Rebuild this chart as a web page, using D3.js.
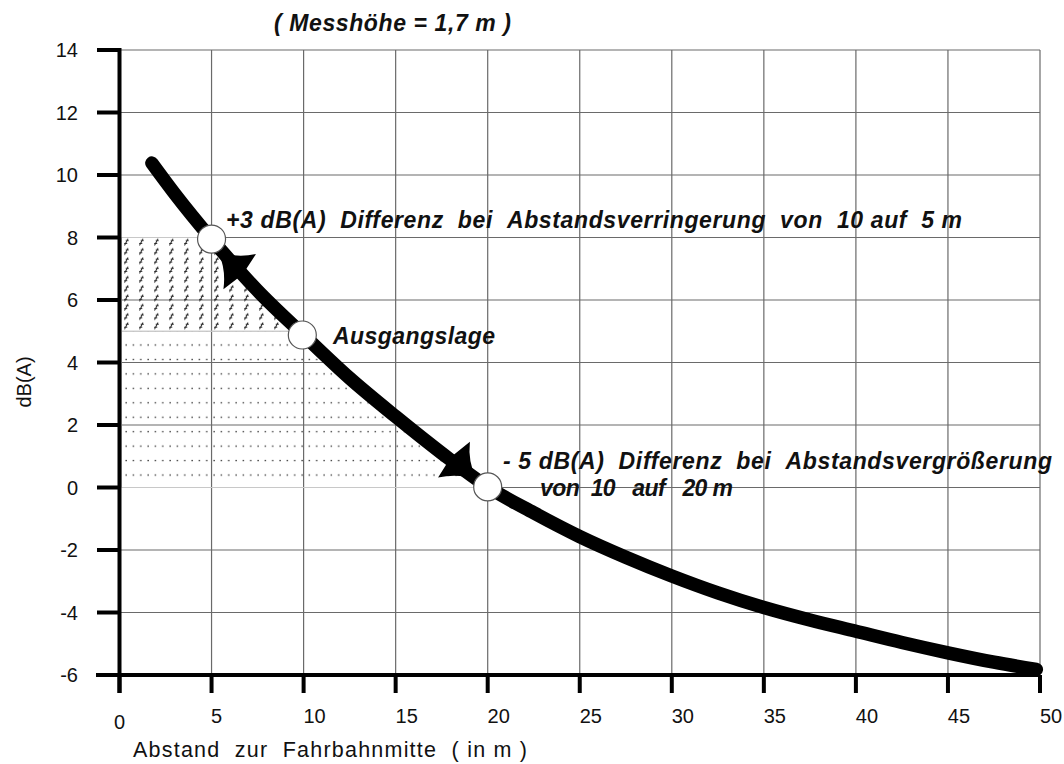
<!DOCTYPE html>
<html><head><meta charset="utf-8">
<script src="https://cdn.jsdelivr.net/npm/d3@7"></script>
<style>
html,body{margin:0;padding:0;background:#fff;}
text{font-family:"Liberation Sans",Arial,sans-serif;}
</style></head>
<body>
<svg id="chart" width="1064" height="764"></svg>
<script>
// ---- data ----
const distance = [1.76, 3, 5, 7.5, 10, 12.5, 15, 17.5, 20, 22.5, 25, 27.5, 30, 32.5, 35, 37.5, 40, 42.5, 45, 47.5, 49.8];
const level    = [10.38, 9.4, 7.95, 6.3, 4.88, 3.5, 2.27, 1.1, 0.02, -0.81, -1.57, -2.23, -2.83, -3.37, -3.84, -4.24, -4.6, -4.96, -5.29, -5.59, -5.82];
const markerX  = [5, 9.93, 20];
const markerY  = [7.95, 4.88, 0.02];
const arrowTipX  = [5.35, 19.4];
const arrowTipY  = [7.55, 0.25];
const arrowBaseX = [6.45, 18.25];
const arrowBaseY = [6.95, 0.85];
const xTicks = [0, 5, 10, 15, 20, 25, 30, 35, 40, 45, 50];
const yTicks = [-6, -4, -2, 0, 2, 4, 6, 8, 10, 12, 14];
const titleText = "( Messhöhe = 1,7 m )";
const xTitle = "Abstand  zur  Fahrbahnmitte  ( in m )";
const yTitle = "dB(A)";
const note1 = "+3 dB(A)  Differenz  bei  Abstandsverringerung  von  10 auf  5 m";
const note2 = "Ausgangslage";
const note3a = "- 5 dB(A)  Differenz  bei  Abstandsvergrößerung";
const note3b = "von  10   auf   20 m";

const nb = s => s.replace(/ /g, "\u00A0");

// ---- scales ----
const svg = d3.select("#chart");
const x = d3.scaleLinear().domain([0, 50]).range([119.5, 1040]);
const y = d3.scaleLinear().domain([-6, 14]).range([675, 50]);

const defs = svg.append("defs");
// hatch pattern
const hp = defs.append("pattern").attr("id", "hatch").attr("patternUnits", "userSpaceOnUse")
  .attr("x", 122).attr("y", y(8)).attr("width", 15).attr("height", 9.3);
hp.append("line").attr("x1", 2.5).attr("y1", 8).attr("x2", 6).attr("y2", 1.5)
  .attr("stroke", "#222").attr("stroke-width", 1);
hp.append("line").attr("x1", 3.7).attr("y1", 3).attr("x2", 6.9).attr("y2", 3)
  .attr("stroke", "#222").attr("stroke-width", 0.9);
hp.append("line").attr("x1", 2.1).attr("y1", 6).attr("x2", 5.3).attr("y2", 6)
  .attr("stroke", "#222").attr("stroke-width", 0.9);
// dot pattern
const dh = 14.45;
const dp = defs.append("pattern").attr("id", "dots").attr("patternUnits", "userSpaceOnUse")
  .attr("x", 122.3).attr("y", 475 - dh / 2).attr("width", 7.33).attr("height", dh);
dp.append("rect").attr("x", 3.2).attr("y", dh / 2 - 0.6).attr("width", 1.3).attr("height", 1.3).attr("fill", "#222");

// clip: region below/left of the curve
const lineGen = d3.line().x(d => x(d[0])).y(d => y(d[1])).curve(d3.curveMonotoneX);
const curveData = distance.map((d, i) => [d, level[i]]);
const curvePath = lineGen(curveData);
defs.append("clipPath").attr("id", "under").append("path")
  .attr("d", curvePath + `L${x(0)},${y(-6)}L${x(0)},${y(level[0])}Z`);

// ---- grid ----
const grid = svg.append("g").attr("stroke", "#6a6a6a").attr("stroke-width", 1.2);
xTicks.filter(v => v > 0).forEach(v => {
  grid.append("line").attr("x1", x(v)).attr("x2", x(v)).attr("y1", y(14)).attr("y2", y(-6));
});
yTicks.filter(v => v > -6).forEach(v => {
  grid.append("line").attr("x1", x(0)).attr("x2", x(50)).attr("y1", y(v)).attr("y2", y(v));
});

// ---- shaded regions ----
const shade = svg.append("g").attr("clip-path", "url(#under)");
shade.append("rect").attr("x", x(0) + 2).attr("y", y(8)).attr("width", x(20) - x(0)).attr("height", y(5) - y(8))
  .attr("fill", "url(#hatch)").attr("stroke", "#c8c8c8").attr("stroke-width", 1);
shade.append("rect").attr("x", x(0) + 2).attr("y", y(5)).attr("width", x(20) - x(0)).attr("height", y(0) - y(5))
  .attr("fill", "url(#dots)").attr("stroke", "#c8c8c8").attr("stroke-width", 1);

// ---- axes ----
const ax = svg.append("g").attr("stroke", "#000");
ax.append("line").attr("x1", x(0)).attr("x2", x(0)).attr("y1", y(14) - 2).attr("y2", y(-6) + 18).attr("stroke-width", 4);
ax.append("line").attr("x1", 96).attr("x2", x(50)).attr("y1", y(-6)).attr("y2", y(-6)).attr("stroke-width", 4);
yTicks.forEach(v => {
  ax.append("line").attr("x1", 97).attr("x2", x(0)).attr("y1", y(v)).attr("y2", y(v)).attr("stroke-width", 4);
});
xTicks.forEach(v => {
  ax.append("line").attr("x1", x(v)).attr("x2", x(v)).attr("y1", y(-6)).attr("y2", y(-6) + 18).attr("stroke-width", 4);
});

// tick labels
svg.append("g").selectAll("text").data(yTicks).join("text")
  .attr("x", 78).attr("y", d => y(d)).attr("dy", "0.36em").attr("text-anchor", "end")
  .attr("font-size", 20).attr("fill", "#111").text(d => d);
svg.append("g").selectAll("text").data(xTicks).join("text")
  .attr("x", d => x(d) + (d === 0 ? 0 : d === 5 ? 5 : 11))
  .attr("y", d => d === 0 ? 729 : 723).attr("text-anchor", "middle")
  .attr("font-size", 20).attr("fill", "#111").text(d => d);

// axis titles
svg.append("text").attr("x", 133).attr("y", 757).attr("font-size", 21.5).attr("fill", "#111")
  .attr("textLength", 394).attr("lengthAdjust", "spacing").text(nb(xTitle));
svg.append("text").attr("transform", "translate(24,382) rotate(-90)").attr("text-anchor", "middle")
  .attr("dy", "0.36em").attr("font-size", 20).attr("fill", "#111").text(yTitle);

// title
svg.append("text").attr("x", 274).attr("y", 31)
  .attr("font-size", 23).attr("font-weight", "bold").attr("font-style", "italic").attr("fill", "#111")
  .attr("textLength", 237).attr("lengthAdjust", "spacing").text(nb(titleText));

// ---- curve ----
svg.append("path").attr("d", curvePath).attr("fill", "none").attr("stroke", "#000")
  .attr("stroke-width", 13.5).attr("stroke-linecap", "round");

// ---- arrowheads ----
arrowTipX.forEach((tx, i) => {
  const T = [x(tx), y(arrowTipY[i])];
  const B = [x(arrowBaseX[i]), y(arrowBaseY[i])];
  const dx = T[0] - B[0], dy = T[1] - B[1];
  const L = Math.hypot(dx, dy);
  const u = [dx / L, dy / L], n = [-u[1], u[0]];
  const W = 24;
  const P = (a, b) => [B[0] + a * u[0] + b * n[0], B[1] + a * u[1] + b * n[1]];
  const w1 = P(-2, W), w2 = P(-2, -W), c1 = P(0.35 * L, 0.3 * W), c2 = P(0.35 * L, -0.3 * W), bk = P(-6, 0);
  svg.append("path")
    .attr("d", `M${T}Q${c1} ${w1}L${bk}L${w2}Q${c2} ${T}Z`)
    .attr("fill", "#000");
});

// ---- markers ----
svg.append("g").selectAll("circle").data(markerX).join("circle")
  .attr("cx", d => x(d)).attr("cy", (d, i) => y(markerY[i])).attr("r", 14)
  .attr("fill", "#fff").attr("stroke", "#555").attr("stroke-width", 1.2);

// ---- annotations ----
const ann = svg.append("g").attr("font-size", 23).attr("font-weight", "bold").attr("font-style", "italic")
  .attr("fill", "#111");
ann.append("text").attr("x", 226).attr("y", 228).attr("textLength", 736).attr("lengthAdjust", "spacing").text(nb(note1));
ann.append("text").attr("x", 333).attr("y", 344).attr("textLength", 162).attr("lengthAdjust", "spacing").text(nb(note2));
ann.append("text").attr("x", 503).attr("y", 469).attr("textLength", 549).attr("lengthAdjust", "spacing").text(nb(note3a));
ann.append("text").attr("x", 540).attr("y", 496).attr("textLength", 193).attr("lengthAdjust", "spacing").text(nb(note3b));
</script>
</body></html>
